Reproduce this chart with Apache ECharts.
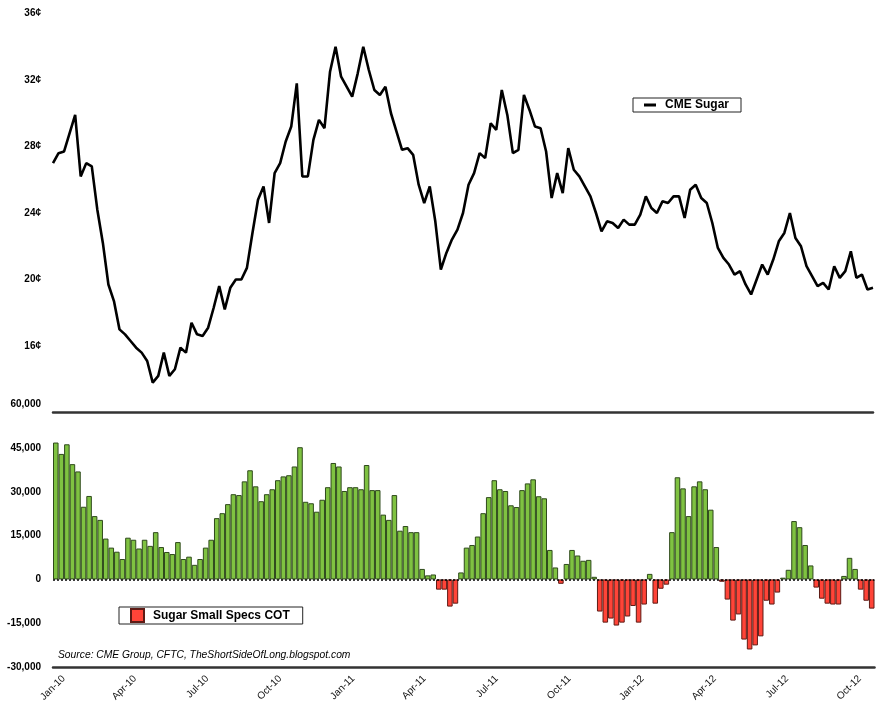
<!DOCTYPE html>
<html>
<head>
<meta charset="utf-8">
<script src="https://cdn.jsdelivr.net/npm/echarts@6/dist/echarts.min.js"></script>
<style>
html,body{margin:0;padding:0;background:#fff;}
#chart{width:885px;height:709px;}
</style>
</head>
<body>
<div id="chart"></div>
<script>
// ---- DATA ----
// Weekly CME sugar price (cents/lb), first week ending 2009-12-18
const priceStart = '2009-12-18';
const sugarPrice = [
27.0,27.6,27.7,28.8,29.9,26.2,27.0,26.8,24.2,22.2,
19.7,18.7,17.0,16.7,16.3,15.9,15.6,15.1,13.8,14.2,
15.6,14.2,14.6,15.9,15.6,17.4,16.7,16.6,17.1,18.3,
19.6,18.2,19.5,20.0,20.0,20.7,22.8,24.8,25.6,23.4,
26.4,27.0,28.3,29.2,31.8,26.2,26.2,28.4,29.6,29.1,
32.5,34.0,32.2,31.6,31.0,32.4,34.0,32.6,31.4,31.1,
31.6,30.0,28.9,27.8,27.9,27.5,25.7,24.6,25.6,23.5,
20.6,21.6,22.4,23.0,24.0,25.7,26.4,27.6,27.3,29.4,
29.0,31.4,29.9,27.6,27.8,31.1,30.2,29.2,29.1,27.7,
24.9,26.4,25.2,27.9,26.6,26.2,25.6,25.0,24.0,22.9,
23.5,23.4,23.1,23.6,23.3,23.3,23.9,25.0,24.3,24.0,
24.7,24.6,25.0,25.0,23.7,25.4,25.7,24.9,24.6,23.4,
21.9,21.3,20.9,20.3,20.5,19.7,19.1,20.0,20.9,20.3,
21.2,22.3,22.8,24.0,22.5,22.0,20.8,20.2,19.6,19.8,
19.4,20.8,20.1,20.5,21.7,20.1,20.3,19.4,19.5
];
// Weekly small speculators net position (contracts), first report 2009-12-22
const cotStart = '2009-12-22';
const smallSpecs = [
46900,43000,46300,39500,37000,24900,28600,21700,20400,14000,
10900,9500,7000,14300,13600,10600,13600,11500,16200,11100,
9400,8700,12800,7000,7800,5000,7000,10900,13600,21000,
22700,25800,29200,28900,33600,37400,31900,26800,29200,30900,
34000,35300,35700,38700,45300,26600,26100,23200,27300,31600,
39900,38700,30300,31600,31600,30900,39200,30600,30600,22200,
20400,28900,16700,18300,16200,16200,3600,1400,1700,-3500,
-3500,-9300,-8300,2400,10900,11800,14700,22700,28200,34000,
30900,30300,25400,24800,30600,32900,34300,28500,27800,10100,
4100,-1500,5300,10100,8200,6400,6700,900,-11000,-14800,
-13400,-15800,-14800,-12700,-9100,-14800,-8600,1900,-8300,-3200,
-1800,16200,35000,31200,21700,31900,33600,30900,23900,11100,
-800,-6900,-14100,-12000,-20600,-24000,-22600,-19500,-7300,-8600,
-4500,600,3300,20000,17900,11800,4800,-2800,-6600,-8300,
-8600,-8600,1200,7400,3600,-3500,-7300,-10000
];
// Axis tick labels
const quarterDates = ['2010-01-01','2010-04-01','2010-07-01','2010-10-01','2011-01-01','2011-04-01','2011-07-01','2011-10-01','2012-01-01','2012-04-01','2012-07-01','2012-10-01'];
const quarterLabels = ['Jan-10','Apr-10','Jul-10','Oct-10','Jan-11','Apr-11','Jul-11','Oct-11','Jan-12','Apr-12','Jul-12','Oct-12'];
const priceTicks = [12,16,20,24,28,32,36];
const cotTicks = [-30000,-15000,0,15000,30000,45000,60000];
const sourceText = 'Source: CME Group, CFTC, TheShortSideOfLong.blogspot.com';

// ---- BUILD ----
const DAY = 86400000;
function weekly(start, n){
  const t0 = Date.parse(start + 'T00:00:00Z');
  const out = [];
  for (let i = 0; i < n; i++) out.push(new Date(t0 + i*7*DAY).toISOString().slice(0,10));
  return out;
}
const priceDates = weekly(priceStart, sugarPrice.length);
const cotDates = weekly(cotStart, smallSpecs.length);
const t0 = Date.parse(cotStart + 'T00:00:00Z');
// quarter boundaries expressed in weeks since first COT report
const qWeeks = quarterDates.map(d => (Date.parse(d + 'T00:00:00Z') - t0) / (7*DAY));

const GREEN = '#7fc241', GREEN_B = '#2f4a1c';
const RED = '#ff4438', RED_B = '#5e1b15';
const FONT = 'Liberation Sans';

const barData = smallSpecs.map(v => v >= 0
  ? {value: v, itemStyle: {color: GREEN, borderColor: GREEN_B}}
  : {value: v});

const chart = echarts.init(document.getElementById('chart'), null, {renderer: 'canvas'});
chart.setOption({
  animation: false,
  backgroundColor: '#fff',
  title: {
    text: sourceText, left: 58, top: 650, padding: 0,
    textStyle: {fontFamily: FONT, fontStyle: 'italic', fontWeight: 'normal', fontSize: 10.3, color: '#000'}
  },
  legend: [
    {
      data: [{name: 'CME Sugar', icon: 'rect'}],
      left: 633, top: 98, padding: [1, 12, 1, 11],
      borderColor: '#222', borderWidth: 1, borderRadius: 0,
      itemWidth: 12, itemHeight: 3, selectedMode: false,
      textStyle: {fontFamily: FONT, fontWeight: 'bold', fontSize: 12, color: '#000', padding: [0,0,0,4]}
    },
    {
      data: [{name: 'Sugar Small Specs COT', icon: 'rect'}],
      left: 119, top: 607, padding: [1, 13, 1, 11],
      borderColor: '#222', borderWidth: 1, borderRadius: 0,
      itemWidth: 13, itemHeight: 13, selectedMode: false,
      textStyle: {fontFamily: FONT, fontWeight: 'bold', fontSize: 12, color: '#000', padding: [0,0,0,4]}
    }
  ],
  grid: [
    {left: 53, right: 12, top: 13.5, height: 399},
    {left: 53, right: 10.5, top: 404.3, height: 262.7}
  ],
  xAxis: [
    {
      type: 'category', gridIndex: 0, data: priceDates, boundaryGap: false, position: 'bottom',
      axisLine: {onZero: false, lineStyle: {color: '#333', width: 2.5}},
      axisTick: {show: false}, axisLabel: {show: false}, splitLine: {show: false}
    },
    {
      type: 'category', gridIndex: 1, data: cotDates, boundaryGap: true, position: 'bottom',
      axisLine: {onZero: false, lineStyle: {color: '#333', width: 2.5}},
      axisTick: {show: false}, axisLabel: {show: false}, splitLine: {show: false}
    },
    {
      type: 'value', gridIndex: 1, min: -0.5, max: smallSpecs.length - 0.5, position: 'bottom',
      axisLine: {show: false, onZero: false}, axisTick: {show: false}, splitLine: {show: false},
      axisLabel: {
        customValues: qWeeks, rotate: 45, margin: 10,
        fontFamily: FONT, fontSize: 10, color: '#111',
        formatter: function (v) {
          let k = 0, best = Infinity;
          qWeeks.forEach((q, i) => { if (Math.abs(q - v) < best) { best = Math.abs(q - v); k = i; } });
          return quarterLabels[k];
        }
      }
    }
  ],
  yAxis: [
    {
      type: 'value', gridIndex: 0, min: priceTicks[0], max: priceTicks[priceTicks.length-1], interval: 4,
      axisLine: {show: false}, axisTick: {show: false}, splitLine: {show: false},
      axisLabel: {showMinLabel: false, margin: 12, fontFamily: FONT, fontWeight: 'bold', fontSize: 10, color: '#000', formatter: '{value}¢'}
    },
    {
      type: 'value', gridIndex: 1, min: cotTicks[0], max: cotTicks[cotTicks.length-1], interval: 15000,
      axisLine: {show: false}, axisTick: {show: false}, splitLine: {show: false},
      axisLabel: {margin: 12, fontFamily: FONT, fontWeight: 'bold', fontSize: 10, color: '#000',
        formatter: v => v.toLocaleString('en-US')}
    }
  ],
  series: [
    {
      name: 'CME Sugar', type: 'line', xAxisIndex: 0, yAxisIndex: 0, data: sugarPrice,
      showSymbol: false, symbol: 'none', lineStyle: {color: '#000', width: 2.6}, itemStyle: {color: '#000'},
      silent: true
    },
    {
      name: 'Sugar Small Specs COT', type: 'bar', xAxisIndex: 1, yAxisIndex: 1, data: barData,
      barCategoryGap: '0%', itemStyle: {color: RED, borderColor: RED_B, borderWidth: 1},
      silent: true,
      markLine: {
        silent: true, symbol: 'none', label: {show: false},
        lineStyle: {color: '#000', type: [2, 2], width: 1.5},
        data: [{yAxis: 0}]
      }
    }
  ]
});
</script>
</body>
</html>
